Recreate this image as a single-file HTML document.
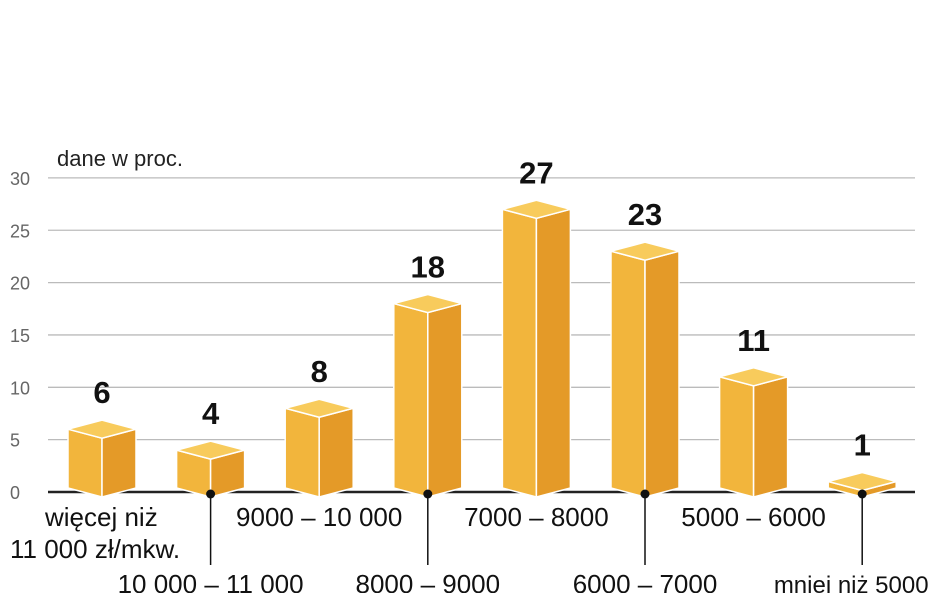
<!DOCTYPE html>
<html><head><meta charset="utf-8"><style>
body{margin:0;background:#fff;}
svg text{font-family:"Liberation Sans",sans-serif;}
</style></head><body>
<svg width="948" height="593" viewBox="0 0 948 593">
<text x="57" y="166" font-size="22" fill="#222">dane w proc.</text>
<g id="grid"></g>
<g id="bars"></g>
<g id="labels"></g>
</svg>
<script>
const categories=["więcej niż|11 000 zł/mkw.","10 000 – 11 000","9000 – 10 000","8000 – 9000","7000 – 8000","6000 – 7000","5000 – 6000","mniej niż 5000"];
const values=[6,4,8,18,27,23,11,1];
const ticks=[0,5,10,15,20,25,30];
const NS="http://www.w3.org/2000/svg";
const y0=492,pxPer=10.47,x0=102,step=108.6,hw=34;
const yS=v=>y0-v*pxPer, xS=i=>x0+i*step;
function mk(t,a,p){const e=document.createElementNS(NS,t);for(const k in a)e.setAttribute(k,a[k]);p.appendChild(e);return e;}
const grid=document.getElementById('grid'),bars=document.getElementById('bars'),labels=document.getElementById('labels');
ticks.forEach(t=>{
  if(t>0){const l=mk('line',{x1:48,x2:915,y1:yS(t),y2:yS(t),stroke:'#bbb','stroke-width':1.3},grid);
  
  }
  const tx=mk('text',{x:10,y:yS(t)+7,'font-size':18,fill:'#666'},grid);tx.textContent=t;
  
  
});
const base=mk('line',{x1:48,x2:915,y1:y0,y2:y0,stroke:'#222','stroke-width':2.5},grid);


values.forEach((v,i)=>{
  const c=xS(i),top=yS(v),d=9;
  const g=mk('g',{},bars);
  
  
  const bot=y0+5;
  mk('polygon',{points:`${c-hw},${top} ${c},${top+d} ${c},${bot} ${c-hw},${bot-d}`,fill:'#f2b53c',stroke:'#fff','stroke-width':1.5},g);
  mk('polygon',{points:`${c},${top+d} ${c+hw},${top} ${c+hw},${bot-d} ${c},${bot}`,fill:'#e49a28',stroke:'#fff','stroke-width':1.5},g);
  mk('polygon',{points:`${c-hw},${top} ${c},${top-d} ${c+hw},${top} ${c},${top+d}`,fill:'#f8cb5c',stroke:'#fff','stroke-width':1.5},g);
  const vt=mk('text',{x:c,y:top-26,'font-size':31,'font-weight':'bold','text-anchor':'middle',fill:'#111'},labels);
  vt.textContent=v;
  
  
  const parts=categories[i].split('|');
  const lg=mk('g',{},labels);
  
  
  if(i%2===0){
    if(i===0){
      const t1=mk('text',{x:45,y:526,'font-size':26,fill:'#111'},lg);t1.textContent=parts[0];
      const t2=mk('text',{x:10,y:558,'font-size':26,fill:'#111'},lg);t2.textContent=parts[1];
    }else{
      const t=mk('text',{x:c,y:526,'font-size':26,'text-anchor':'middle',fill:'#111'},lg);t.textContent=parts[0];
    }
  }else{
    mk('circle',{cx:c,cy:y0+2,r:4.5,fill:'#111'},lg);
    mk('line',{x1:c,x2:c,y1:y0+2,y2:565,stroke:'#111','stroke-width':1.5},lg);
    const t=mk('text',{x:i===7?c-11:c,y:593,'font-size':26,'text-anchor':'middle',fill:'#111'},lg);t.textContent=parts[0];
    if(i===7){t.setAttribute('font-size',24);}
  }
});
</script>
</body></html>
